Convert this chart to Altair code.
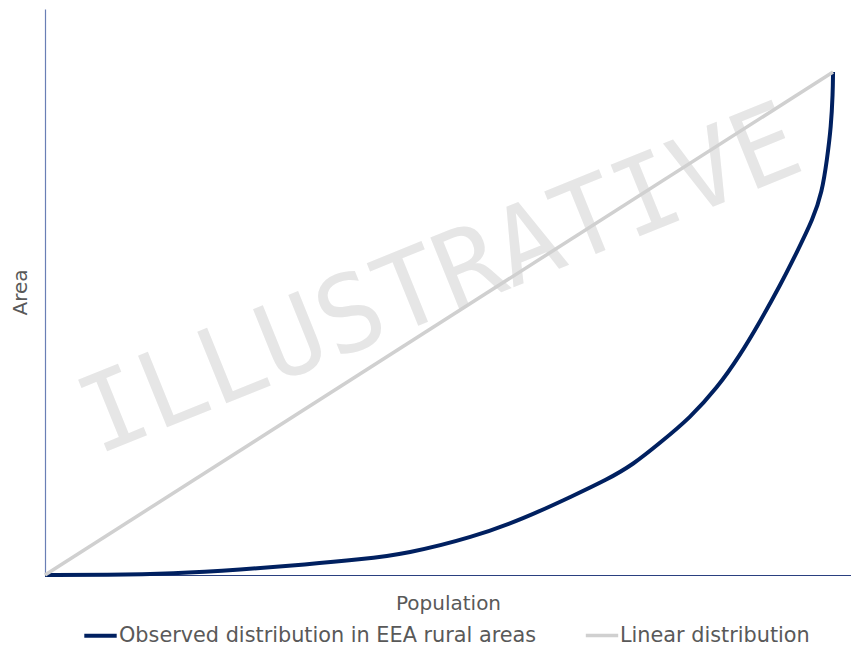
import altair as alt
import pandas as pd

# Observed distribution: population share vs area share
obs_x = [0, 7.87, 16.24, 24.75, 33.25, 39.97, 45.94, 54.31, 60.66, 67.01, 71.32,
         74.62, 78.05, 81.85, 85.28, 88.20, 90.74, 93.27, 95.43, 97.46, 98.60,
         99.24, 99.75, 99.97, 100]
obs_y = [0, 0.0, 0.26, 1.05, 2.11, 3.10, 4.21, 7.51, 11.13, 15.75, 18.97,
         21.94, 26.28, 31.23, 37.15, 43.68, 50.40, 57.51, 64.23, 70.75, 76.09,
         82.61, 89.13, 95.8, 100]
lin_x = [0, 100]
lin_y = [0, 100]

series_names = ["Observed distribution in EEA rural areas", "Linear distribution"]
series_colors = ["#002060", "#d0d0d0"]

watermark_text = ["ILLUSTRATIVE"]
watermark_x = [50.2]
watermark_y = [58.2]

df = pd.concat([
    pd.DataFrame({"x": obs_x, "y": obs_y, "series": series_names[0], "order": range(len(obs_x))}),
    pd.DataFrame({"x": lin_x, "y": lin_y, "series": series_names[1], "order": range(len(lin_x))}),
])
wm = pd.DataFrame({"t": watermark_text, "x": watermark_x, "y": watermark_y})

xscale = alt.Scale(domain=[0, 102.28], nice=False, zero=True)
yscale = alt.Scale(domain=[0, 112.52], nice=False, zero=True)

FONT = "DejaVu Sans"
TXT = "#595959"

water = alt.Chart(wm).mark_text(
    font="DejaVu Sans Mono", fontSize=106, color="#e6e6e6", angle=338,
    align="center", baseline="middle"
).encode(
    x=alt.X("x:Q", scale=xscale, title="Population"),
    y=alt.Y("y:Q", scale=yscale, title="Area"),
    text="t:N",
)

lines = alt.Chart(df).mark_line(interpolate="basis").encode(
    x=alt.X("x:Q", scale=xscale, title="Population",
            axis=alt.Axis(ticks=False, labels=False, grid=False, domainColor="#2a4080",
                          domainWidth=1.2, titleFontSize=20, titleColor=TXT,
                          titleFont=FONT, titleFontWeight="normal", titlePadding=18)),
    y=alt.Y("y:Q", scale=yscale, title="Area",
            axis=alt.Axis(ticks=False, labels=False, grid=False, domainColor="#6a7fb5",
                          domainWidth=1.2, titleFontSize=20, titleColor=TXT,
                          titleFont=FONT, titleFontWeight="normal", titlePadding=15)),
    color=alt.Color("series:N", scale=alt.Scale(domain=series_names, range=series_colors),
                    sort=series_names,
                    legend=alt.Legend(title=None, orient="none", direction="horizontal",
                                      legendX=37, legendY=608, symbolType="stroke",
                                      symbolSize=1050, symbolStrokeWidth=4,
                                      labelFontSize=20.8, labelColor=TXT, labelLimit=0,
                                      labelFont=FONT, labelOffset=0,
                                      columnPadding=41)),
    strokeWidth=alt.StrokeWidth("series:N", scale=alt.Scale(domain=series_names, range=[4, 3.5]), legend=None),
    order="order:Q",
)

chart = alt.layer(water, lines).properties(
    width=806, height=566,
    padding={"left": 37, "top": 1, "right": 0, "bottom": 72},
    autosize=alt.AutoSizeParams(type="none"),
).configure_view(stroke=None)

chart.save("out.html", embed_options={"renderer": "svg", "actions": False})
